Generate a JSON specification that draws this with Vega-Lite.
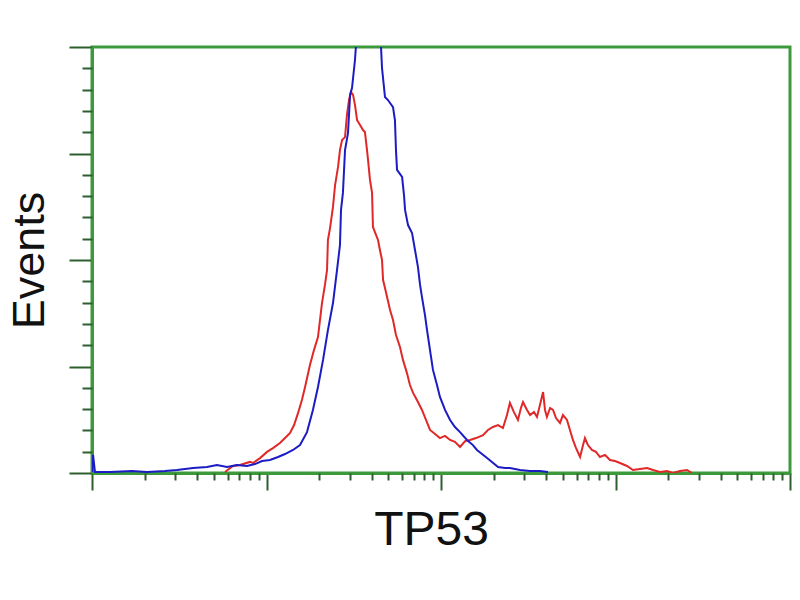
{
  "$schema": "https://vega.github.io/schema/vega-lite/v6.json",
  "autosize": "none",
  "width": 698,
  "height": 426,
  "padding": {"left": 92, "top": 47, "right": 10, "bottom": 127},
  "background": "white",
  "config": {
    "view": {"stroke": "#3c9a3c", "strokeWidth": 3},
    "axis": {"grid": false, "labels": false, "domainColor": "#3c9a3c", "domainWidth": 3, "tickColor": "#2e5e2e", "tickWidth": 2, "titleFont": "Liberation Sans", "titleFontWeight": "normal", "titleColor": "#111111"}
  },
  "datasets": {
    "red": [
      {"fl": 0.762, "events": 0.5}, {"fl": 0.808, "events": 3.3}, {"fl": 0.848, "events": 3.8}, {"fl": 0.905, "events": 5.2},
      {"fl": 0.923, "events": 4.7}, {"fl": 0.963, "events": 7.0}, {"fl": 1.003, "events": 9.9}, {"fl": 1.037, "events": 11.7},
      {"fl": 1.077, "events": 14.1}, {"fl": 1.112, "events": 16.9}, {"fl": 1.135, "events": 18.8}, {"fl": 1.158, "events": 22.5},
      {"fl": 1.181, "events": 28.2}, {"fl": 1.203, "events": 34.3}, {"fl": 1.221, "events": 40.4}, {"fl": 1.249, "events": 50.7},
      {"fl": 1.272, "events": 57.7}, {"fl": 1.295, "events": 63.8}, {"fl": 1.318, "events": 79.8}, {"fl": 1.335, "events": 88.3},
      {"fl": 1.347, "events": 95.3}, {"fl": 1.352, "events": 109.4}, {"fl": 1.364, "events": 115.0}, {"fl": 1.381, "events": 124.9},
      {"fl": 1.393, "events": 135.2}, {"fl": 1.410, "events": 143.7}, {"fl": 1.421, "events": 151.6}, {"fl": 1.433, "events": 156.3},
      {"fl": 1.450, "events": 157.7}, {"fl": 1.461, "events": 168.1}, {"fl": 1.473, "events": 175.1}, {"fl": 1.484, "events": 178.9},
      {"fl": 1.496, "events": 177.5}, {"fl": 1.507, "events": 172.8}, {"fl": 1.519, "events": 165.7}, {"fl": 1.536, "events": 163.4},
      {"fl": 1.553, "events": 161.0}, {"fl": 1.564, "events": 160.1}, {"fl": 1.576, "events": 151.6}, {"fl": 1.582, "events": 146.9},
      {"fl": 1.593, "events": 137.6}, {"fl": 1.605, "events": 131.5}, {"fl": 1.610, "events": 115.5}, {"fl": 1.628, "events": 111.7},
      {"fl": 1.639, "events": 109.4}, {"fl": 1.650, "events": 104.7}, {"fl": 1.662, "events": 100.0}, {"fl": 1.668, "events": 90.6},
      {"fl": 1.679, "events": 86.9}, {"fl": 1.691, "events": 82.6}, {"fl": 1.708, "events": 76.5}, {"fl": 1.725, "events": 71.8},
      {"fl": 1.742, "events": 64.8}, {"fl": 1.765, "events": 59.2}, {"fl": 1.782, "events": 53.1}, {"fl": 1.805, "events": 46.9},
      {"fl": 1.822, "events": 41.3}, {"fl": 1.840, "events": 37.6}, {"fl": 1.862, "events": 34.3}, {"fl": 1.891, "events": 29.6},
      {"fl": 1.914, "events": 24.9}, {"fl": 1.937, "events": 20.2}, {"fl": 1.966, "events": 18.3}, {"fl": 1.994, "events": 16.4},
      {"fl": 2.023, "events": 17.4}, {"fl": 2.052, "events": 15.5}, {"fl": 2.080, "events": 14.6}, {"fl": 2.109, "events": 12.2},
      {"fl": 2.138, "events": 15.0}, {"fl": 2.166, "events": 15.5}, {"fl": 2.201, "events": 16.4}, {"fl": 2.241, "events": 17.8},
      {"fl": 2.269, "events": 20.2}, {"fl": 2.298, "events": 21.6}, {"fl": 2.327, "events": 22.5}, {"fl": 2.355, "events": 21.1},
      {"fl": 2.378, "events": 27.2}, {"fl": 2.395, "events": 32.9}, {"fl": 2.418, "events": 28.6}, {"fl": 2.441, "events": 24.9},
      {"fl": 2.458, "events": 30.5}, {"fl": 2.470, "events": 33.3}, {"fl": 2.493, "events": 29.6}, {"fl": 2.510, "events": 27.2},
      {"fl": 2.533, "events": 28.6}, {"fl": 2.550, "events": 26.3}, {"fl": 2.567, "events": 31.9}, {"fl": 2.585, "events": 38.0},
      {"fl": 2.596, "events": 29.6}, {"fl": 2.607, "events": 26.3}, {"fl": 2.625, "events": 30.5}, {"fl": 2.642, "events": 29.6},
      {"fl": 2.659, "events": 25.8}, {"fl": 2.682, "events": 23.5}, {"fl": 2.699, "events": 27.2}, {"fl": 2.722, "events": 24.9},
      {"fl": 2.739, "events": 20.2}, {"fl": 2.756, "events": 15.5}, {"fl": 2.774, "events": 11.7}, {"fl": 2.797, "events": 7.5},
      {"fl": 2.814, "events": 13.1}, {"fl": 2.825, "events": 16.4}, {"fl": 2.842, "events": 13.1}, {"fl": 2.865, "events": 10.8},
      {"fl": 2.888, "events": 9.9}, {"fl": 2.911, "events": 7.5}, {"fl": 2.940, "events": 8.5}, {"fl": 2.968, "events": 6.1},
      {"fl": 2.997, "events": 5.6}, {"fl": 3.026, "events": 4.7}, {"fl": 3.066, "events": 3.3}, {"fl": 3.100, "events": 1.4},
      {"fl": 3.140, "events": 1.9}, {"fl": 3.181, "events": 2.3}, {"fl": 3.215, "events": 1.4}, {"fl": 3.255, "events": 0.5},
      {"fl": 3.295, "events": 0.9}, {"fl": 3.330, "events": 0.0}, {"fl": 3.370, "events": 0.9}, {"fl": 3.410, "events": 1.4},
      {"fl": 3.438, "events": 0.0}
    ],
    "blue": [
      {"fl": 0.000, "events": 0.5}, {"fl": 0.006, "events": 8.5}, {"fl": 0.017, "events": 0.5}, {"fl": 0.103, "events": 0.5},
      {"fl": 0.229, "events": 0.9}, {"fl": 0.315, "events": 0.5}, {"fl": 0.418, "events": 0.9}, {"fl": 0.487, "events": 1.4},
      {"fl": 0.579, "events": 2.3}, {"fl": 0.659, "events": 2.8}, {"fl": 0.716, "events": 3.8}, {"fl": 0.774, "events": 2.8},
      {"fl": 0.831, "events": 3.8}, {"fl": 0.888, "events": 3.3}, {"fl": 0.934, "events": 4.2}, {"fl": 0.974, "events": 5.6},
      {"fl": 1.020, "events": 6.1}, {"fl": 1.066, "events": 7.5}, {"fl": 1.106, "events": 8.9}, {"fl": 1.152, "events": 10.8},
      {"fl": 1.192, "events": 13.1}, {"fl": 1.232, "events": 19.2}, {"fl": 1.266, "events": 29.6}, {"fl": 1.295, "events": 40.4},
      {"fl": 1.324, "events": 53.1}, {"fl": 1.352, "events": 67.1}, {"fl": 1.381, "events": 79.8}, {"fl": 1.404, "events": 95.3},
      {"fl": 1.421, "events": 107.0}, {"fl": 1.427, "events": 123.5}, {"fl": 1.438, "events": 131.5}, {"fl": 1.450, "events": 151.6},
      {"fl": 1.467, "events": 159.6}, {"fl": 1.479, "events": 177.5}, {"fl": 1.490, "events": 180.7}, {"fl": 1.507, "events": 193.9},
      {"fl": 1.519, "events": 208.0}, {"fl": 1.547, "events": 225.0}, {"fl": 1.582, "events": 236.0}, {"fl": 1.616, "events": 230.0},
      {"fl": 1.645, "events": 212.0}, {"fl": 1.656, "events": 200.5}, {"fl": 1.662, "events": 190.1}, {"fl": 1.679, "events": 176.5},
      {"fl": 1.696, "events": 175.1}, {"fl": 1.725, "events": 171.8}, {"fl": 1.736, "events": 165.7}, {"fl": 1.742, "events": 151.6},
      {"fl": 1.748, "events": 142.3}, {"fl": 1.777, "events": 139.0}, {"fl": 1.788, "events": 130.5}, {"fl": 1.794, "events": 123.5},
      {"fl": 1.811, "events": 116.4}, {"fl": 1.834, "events": 112.7}, {"fl": 1.851, "events": 104.7}, {"fl": 1.868, "events": 96.7},
      {"fl": 1.880, "events": 88.3}, {"fl": 1.891, "events": 82.6}, {"fl": 1.908, "events": 74.2}, {"fl": 1.920, "events": 67.1},
      {"fl": 1.937, "events": 57.7}, {"fl": 1.954, "events": 48.4}, {"fl": 1.977, "events": 41.3}, {"fl": 1.994, "events": 35.7},
      {"fl": 2.023, "events": 29.6}, {"fl": 2.052, "events": 24.9}, {"fl": 2.080, "events": 21.6}, {"fl": 2.109, "events": 19.2},
      {"fl": 2.149, "events": 15.5}, {"fl": 2.183, "events": 13.1}, {"fl": 2.206, "events": 10.8}, {"fl": 2.235, "events": 8.9},
      {"fl": 2.264, "events": 7.0}, {"fl": 2.292, "events": 5.2}, {"fl": 2.327, "events": 2.8}, {"fl": 2.367, "events": 2.3},
      {"fl": 2.395, "events": 2.3}, {"fl": 2.453, "events": 1.4}, {"fl": 2.510, "events": 0.9}, {"fl": 2.567, "events": 0.9},
      {"fl": 2.613, "events": 0.5}
    ]
  },
  "layer": [
    {
      "data": {"name": "red"},
      "mark": {"type": "line", "color": "#e02828", "strokeWidth": 2, "clip": true},
      "encoding": {
        "x": {"field": "fl", "type": "quantitative", "scale": {"domain": [0, 4], "nice": false, "zero": false},
          "axis": {"orient": "bottom", "title": "TP53", "titleFontSize": 48, "titlePadding": 15, "titleX": 339, "values": [0, 1, 2, 3, 4], "tickSize": 17}},
        "y": {"field": "events", "type": "quantitative", "scale": {"domain": [0, 200], "nice": false},
          "axis": {"orient": "left", "title": "Events", "titleFontSize": 45, "titlePadding": 16, "values": [0, 50, 100, 150, 200], "tickSize": 23}}
      }
    },
    {
      "data": {"name": "blue"},
      "mark": {"type": "line", "color": "#1c1cc4", "strokeWidth": 2, "clip": true},
      "encoding": {
        "x": {"field": "fl", "type": "quantitative",
          "axis": {"orient": "bottom", "title": null, "domain": false, "tickSize": 7,
            "values": [0.30103, 0.47712, 0.60206, 0.69897, 0.77815, 0.8451, 0.90309, 0.95424,
                       1.30103, 1.47712, 1.60206, 1.69897, 1.77815, 1.8451, 1.90309, 1.95424,
                       2.30103, 2.47712, 2.60206, 2.69897, 2.77815, 2.8451, 2.90309, 2.95424,
                       3.30103, 3.47712, 3.60206, 3.69897, 3.77815, 3.8451, 3.90309, 3.95424]}},
        "y": {"field": "events", "type": "quantitative",
          "axis": {"orient": "left", "title": null, "domain": false, "tickSize": 10,
            "values": [10, 20, 30, 40, 60, 70, 80, 90, 110, 120, 130, 140, 160, 170, 180, 190]}}
      }
    }
  ],
  "resolve": {"axis": {"x": "independent", "y": "independent"}}
}
